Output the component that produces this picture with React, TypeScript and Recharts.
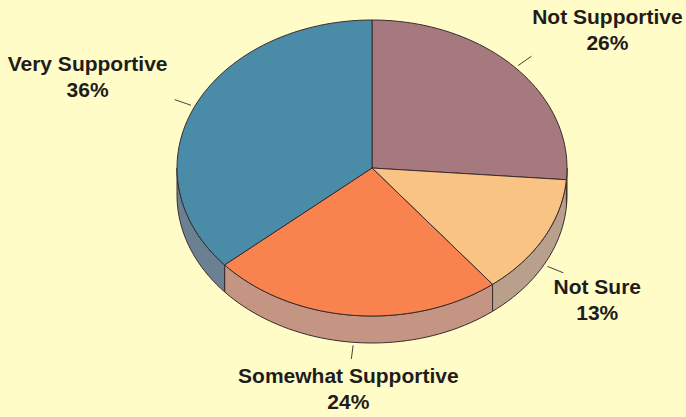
import { Cell, Pie, PieChart } from 'recharts';

// slice order: clockwise from 12 o'clock
const categories = ['Not Supportive', 'Not Sure', 'Somewhat Supportive', 'Very Supportive'];
const shares = [26, 13, 24, 36];

const TOP_COLORS = ['#a6797f', '#f9c384', '#f8834f', '#4a8ba8'];
const SIDE_COLORS = ['#8e6c70', '#b8a08c', '#c49582', '#6b8193'];
// where each label sits relative to the end of its leader line
const LABEL_OFFSETS: [number, number][] = [
  [76, -39],
  [34, 14],
  [-3, 17],
  [-87, -36],
];

const WIDTH = 686;
const HEIGHT = 417;
const CX = 372;
const CY = 168;
const RADIUS = 195;
const SQUASH = 148 / 195;
const DEPTH = 27;
const RAD = Math.PI / 180;
const OUTLINE = '#3a2c2c';
const BG = '#fffcc8';

const data = categories.map((name, i) => ({ name, value: shares[i] }));

function ellipsePoint(cx: number, cy: number, r: number, deg: number, drop = 0): [number, number] {
  return [cx + r * Math.cos(deg * RAD), cy - r * SQUASH * Math.sin(deg * RAD) + drop];
}

function arcPoints(cx: number, cy: number, r: number, a1: number, a2: number, drop = 0) {
  const steps = Math.max(2, Math.ceil(Math.abs(a2 - a1) / 2));
  const pts: [number, number][] = [];
  for (let i = 0; i <= steps; i++) {
    pts.push(ellipsePoint(cx, cy, r, a1 + ((a2 - a1) * i) / steps, drop));
  }
  return pts;
}

function toPath(pts: [number, number][]) {
  return pts.map(([x, y], i) => `${i === 0 ? 'M' : 'L'}${x.toFixed(2)},${y.toFixed(2)}`).join(' ') + ' Z';
}

function TopSlice(props: any) {
  const { cx, cy, outerRadius, startAngle, endAngle, fill } = props;
  const pts: [number, number][] = [[cx, cy], ...arcPoints(cx, cy, outerRadius, startAngle, endAngle)];
  return <path d={toPath(pts)} fill={fill} stroke={OUTLINE} strokeWidth={1} strokeLinejoin="round" />;
}

function SideSlice(props: any) {
  const { cx, cy, outerRadius, startAngle, endAngle, fill } = props;
  const lo = Math.max(Math.min(startAngle, endAngle), -180);
  const hi = Math.min(Math.max(startAngle, endAngle), 0);
  if (lo >= hi) return <g />;
  const pts = [
    ...arcPoints(cx, cy, outerRadius, lo, hi),
    ...arcPoints(cx, cy, outerRadius, hi, lo, DEPTH),
  ];
  return <path d={toPath(pts)} fill={fill} stroke={OUTLINE} strokeWidth={1} strokeLinejoin="round" />;
}

function SliceLabel(props: any) {
  const { cx, cy, outerRadius, midAngle, index } = props;
  const drop = Math.sin(midAngle * RAD) < 0 ? DEPTH : 0;
  const [x1, y1] = ellipsePoint(cx, cy, outerRadius + 4, midAngle, drop);
  const [x2, y2] = ellipsePoint(cx, cy, outerRadius + 22, midAngle, drop);
  const [dx, dy] = LABEL_OFFSETS[index];
  const tx = x2 + dx;
  const ty = y2 + dy + 7;
  return (
    <g>
      <line x1={x1} y1={y1} x2={x2} y2={y2} stroke="#4a4038" strokeWidth={1} />
      <text
        x={tx}
        y={ty}
        textAnchor="middle"
        fontFamily="'Liberation Sans', Arial, sans-serif"
        fontWeight="bold"
        fontSize={21}
        fill="#1f1c1c"
      >
        <tspan x={tx}>{categories[index]}</tspan>
        <tspan x={tx} dy={26}>{`${shares[index]}%`}</tspan>
      </text>
    </g>
  );
}

export default function App() {
  return (
    <div style={{ position: 'absolute', left: 0, top: 0, width: WIDTH, height: HEIGHT, background: BG }}>
      <PieChart width={WIDTH} height={HEIGHT} margin={{ top: 0, right: 0, bottom: 0, left: 0 }}>
        <Pie
          data={data}
          dataKey="value"
          nameKey="name"
          cx={CX}
          cy={CY}
          outerRadius={RADIUS}
          startAngle={90}
          endAngle={-270}
          shape={SideSlice}
          inactiveShape={SideSlice}
          activeShape={SideSlice}
          label={false}
          labelLine={false}
          isAnimationActive={false}
        >
          {data.map((d, i) => (
            <Cell key={d.name} fill={SIDE_COLORS[i]} />
          ))}
        </Pie>
        <Pie
          data={data}
          dataKey="value"
          nameKey="name"
          cx={CX}
          cy={CY}
          outerRadius={RADIUS}
          startAngle={90}
          endAngle={-270}
          shape={TopSlice}
          inactiveShape={TopSlice}
          activeShape={TopSlice}
          label={SliceLabel}
          labelLine={false}
          isAnimationActive={false}
        >
          {data.map((d, i) => (
            <Cell key={d.name} fill={TOP_COLORS[i]} />
          ))}
        </Pie>
      </PieChart>
    </div>
  );
}
